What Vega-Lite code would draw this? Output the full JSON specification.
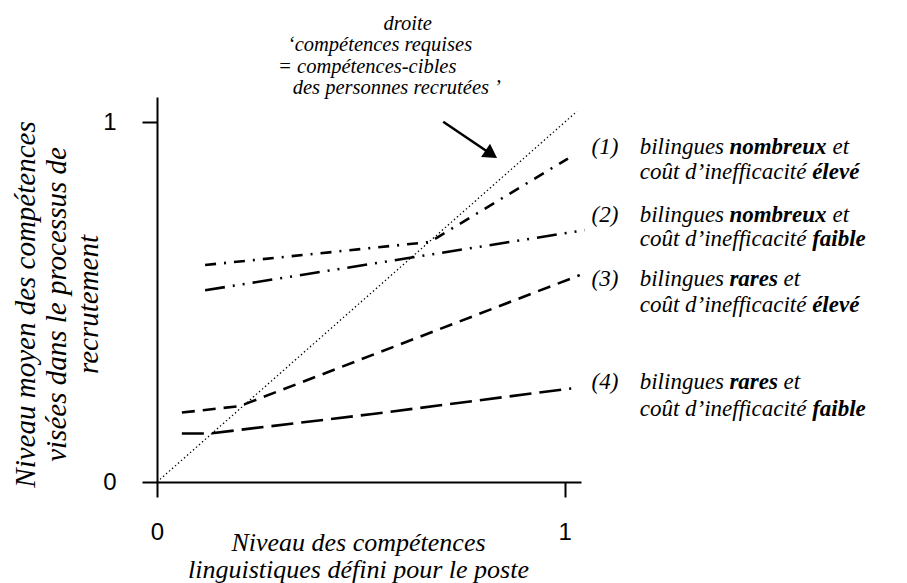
{
  "$schema": "https://vega.github.io/schema/vega-lite/v6.json",
  "width": 424,
  "height": 385,
  "autosize": "none",
  "padding": {"left": 157, "top": 97, "right": 326, "bottom": 101},
  "background": "white",
  "config": {
    "view": {"stroke": null},
    "text": {"font": "Liberation Serif", "fontStyle": "italic", "fontSize": 23, "align": "left", "baseline": "middle", "color": "black"}
  },
  "datasets": {
    "lines": [
      {"s": "d", "x": 0, "y": 0},
      {"s": "d", "x": 1.03, "y": 1.03},
      {"s": "1", "x": 0.118, "y": 0.603},
      {"s": "1", "x": 0.669, "y": 0.667},
      {"s": "1", "x": 1.008, "y": 0.899},
      {"s": "2", "x": 0.118, "y": 0.533},
      {"s": "2", "x": 1.049, "y": 0.700},
      {"s": "3", "x": 0.061, "y": 0.193},
      {"s": "3", "x": 0.203, "y": 0.211},
      {"s": "3", "x": 1.037, "y": 0.575},
      {"s": "4", "x": 0.061, "y": 0.135},
      {"s": "4", "x": 0.130, "y": 0.135},
      {"s": "4", "x": 0.529, "y": 0.189},
      {"s": "4", "x": 1.016, "y": 0.260}
    ],
    "one": [{}]
  },
  "layer": [
    {
      "data": {"name": "lines"},
      "transform": [{"filter": "datum.s != 'd'"}],
      "mark": {"type": "line", "strokeWidth": 2.6, "color": "black"},
      "encoding": {
        "x": {"field": "x", "type": "quantitative", "scale": {"domain": [0, 1.04], "nice": false},
          "axis": {"values": [0, 1], "format": "d", "grid": false, "labelFlush": false,
            "title": ["Niveau des compétences", "linguistiques défini pour le poste"],
            "titleFont": "Liberation Serif", "titleFontStyle": "italic", "titleFontWeight": "normal", "titleFontSize": 26,
            "titleLineHeight": 27, "titleX": 201, "titleY": 60, "titleBaseline": "middle", "titleAlign": "center", "titleColor": "black", "titleAngle": 0,
            "labelFont": "Liberation Sans", "labelFontSize": 24, "labelColor": "black", "labelPadding": 23,
            "tickSize": 15, "tickWidth": 2, "tickColor": "black", "domainColor": "black", "domainWidth": 2}},
        "y": {"field": "y", "type": "quantitative", "scale": {"domain": [0, 1.07], "nice": false},
          "axis": {"values": [0, 1], "format": "d", "grid": false, "labelFlush": false,
            "title": ["Niveau moyen des compétences", "visées dans le processus de", "recrutement"],
            "titleFont": "Liberation Serif", "titleFontStyle": "italic", "titleFontWeight": "normal", "titleFontSize": 29,
            "titleLineHeight": 31.5, "titleX": -132, "titleY": 207, "titleBaseline": "middle", "titleAlign": "center", "titleColor": "black", "titleAngle": -90,
            "labelFont": "Liberation Sans", "labelFontSize": 24, "labelColor": "black", "labelPadding": 26,
            "tickSize": 15, "tickWidth": 2, "tickColor": "black", "domainColor": "black", "domainWidth": 2}},
        "detail": {"field": "s"},
        "strokeDash": {"field": "s", "type": "nominal", "legend": null,
          "scale": {"domain": ["1", "2", "3", "4"], "range": [[11, 8, 2, 8], [20, 8, 2, 8, 2, 8], [13, 8], [22, 8]]}}
      }
    },
    {
      "data": {"name": "lines"},
      "transform": [{"filter": "datum.s == 'd'"}],
      "mark": {"type": "line", "strokeWidth": 1.2, "color": "black", "strokeDash": [1.5, 2.5]},
      "encoding": {
        "x": {"field": "x", "type": "quantitative"},
        "y": {"field": "y", "type": "quantitative"}
      }
    },
    {
      "data": {"name": "one"},
      "mark": {"type": "rule", "strokeWidth": 2.5, "color": "black"},
      "encoding": {
        "x": {"datum": 0.702},
        "y": {"datum": 1.001},
        "x2": {"datum": 0.820},
        "y2": {"datum": 0.911}
      }
    },
    {
      "data": {"name": "one"},
      "mark": {"type": "point", "shape": "triangle-up", "filled": true, "color": "black", "size": 256, "angle": 124, "opacity": 1},
      "encoding": {
        "x": {"datum": 0.820},
        "y": {"datum": 0.911}
      }
    },
    {"data": {"name": "one"}, "mark": {"type": "text", "text": "droite", "align": "center", "fontSize": 20.5}, "encoding": {"x": {"datum": 0.615}, "y": {"datum": 1.274}}},
    {"data": {"name": "one"}, "mark": {"type": "text", "text": "‘compétences requises", "fontSize": 20.5}, "encoding": {"x": {"datum": 0.321}, "y": {"datum": 1.214}}},
    {"data": {"name": "one"}, "mark": {"type": "text", "text": "= compétences-cibles", "fontSize": 20.5}, "encoding": {"x": {"datum": 0.297}, "y": {"datum": 1.154}}},
    {"data": {"name": "one"}, "mark": {"type": "text", "text": "des personnes recrutées ’", "fontSize": 20.5}, "encoding": {"x": {"datum": 0.333}, "y": {"datum": 1.094}}},

    {"data": {"name": "one"}, "mark": {"type": "text", "text": "(1)"}, "encoding": {"x": {"datum": 1.066}, "y": {"datum": 0.932}}},
    {"data": {"name": "one"}, "mark": {"type": "text", "text": "bilingues"}, "encoding": {"x": {"datum": 1.184}, "y": {"datum": 0.932}}},
    {"data": {"name": "one"}, "mark": {"type": "text", "text": "nombreux", "fontWeight": "bold"}, "encoding": {"x": {"datum": 1.404}, "y": {"datum": 0.932}}},
    {"data": {"name": "one"}, "mark": {"type": "text", "text": "et"}, "encoding": {"x": {"datum": 1.657}, "y": {"datum": 0.932}}},
    {"data": {"name": "one"}, "mark": {"type": "text", "text": "coût d’inefficacité"}, "encoding": {"x": {"datum": 1.184}, "y": {"datum": 0.862}}},
    {"data": {"name": "one"}, "mark": {"type": "text", "text": "élevé", "fontWeight": "bold"}, "encoding": {"x": {"datum": 1.607}, "y": {"datum": 0.862}}},

    {"data": {"name": "one"}, "mark": {"type": "text", "text": "(2)"}, "encoding": {"x": {"datum": 1.066}, "y": {"datum": 0.743}}},
    {"data": {"name": "one"}, "mark": {"type": "text", "text": "bilingues"}, "encoding": {"x": {"datum": 1.184}, "y": {"datum": 0.743}}},
    {"data": {"name": "one"}, "mark": {"type": "text", "text": "nombreux", "fontWeight": "bold"}, "encoding": {"x": {"datum": 1.404}, "y": {"datum": 0.743}}},
    {"data": {"name": "one"}, "mark": {"type": "text", "text": "et"}, "encoding": {"x": {"datum": 1.657}, "y": {"datum": 0.743}}},
    {"data": {"name": "one"}, "mark": {"type": "text", "text": "coût d’inefficacité"}, "encoding": {"x": {"datum": 1.184}, "y": {"datum": 0.676}}},
    {"data": {"name": "one"}, "mark": {"type": "text", "text": "faible", "fontWeight": "bold"}, "encoding": {"x": {"datum": 1.607}, "y": {"datum": 0.676}}},

    {"data": {"name": "one"}, "mark": {"type": "text", "text": "(3)"}, "encoding": {"x": {"datum": 1.066}, "y": {"datum": 0.565}}},
    {"data": {"name": "one"}, "mark": {"type": "text", "text": "bilingues"}, "encoding": {"x": {"datum": 1.184}, "y": {"datum": 0.565}}},
    {"data": {"name": "one"}, "mark": {"type": "text", "text": "rares", "fontWeight": "bold"}, "encoding": {"x": {"datum": 1.404}, "y": {"datum": 0.565}}},
    {"data": {"name": "one"}, "mark": {"type": "text", "text": "et"}, "encoding": {"x": {"datum": 1.537}, "y": {"datum": 0.565}}},
    {"data": {"name": "one"}, "mark": {"type": "text", "text": "coût d’inefficacité"}, "encoding": {"x": {"datum": 1.184}, "y": {"datum": 0.493}}},
    {"data": {"name": "one"}, "mark": {"type": "text", "text": "élevé", "fontWeight": "bold"}, "encoding": {"x": {"datum": 1.607}, "y": {"datum": 0.493}}},

    {"data": {"name": "one"}, "mark": {"type": "text", "text": "(4)"}, "encoding": {"x": {"datum": 1.066}, "y": {"datum": 0.279}}},
    {"data": {"name": "one"}, "mark": {"type": "text", "text": "bilingues"}, "encoding": {"x": {"datum": 1.184}, "y": {"datum": 0.279}}},
    {"data": {"name": "one"}, "mark": {"type": "text", "text": "rares", "fontWeight": "bold"}, "encoding": {"x": {"datum": 1.404}, "y": {"datum": 0.279}}},
    {"data": {"name": "one"}, "mark": {"type": "text", "text": "et"}, "encoding": {"x": {"datum": 1.537}, "y": {"datum": 0.279}}},
    {"data": {"name": "one"}, "mark": {"type": "text", "text": "coût d’inefficacité"}, "encoding": {"x": {"datum": 1.184}, "y": {"datum": 0.204}}},
    {"data": {"name": "one"}, "mark": {"type": "text", "text": "faible", "fontWeight": "bold"}, "encoding": {"x": {"datum": 1.607}, "y": {"datum": 0.204}}}
  ]
}
